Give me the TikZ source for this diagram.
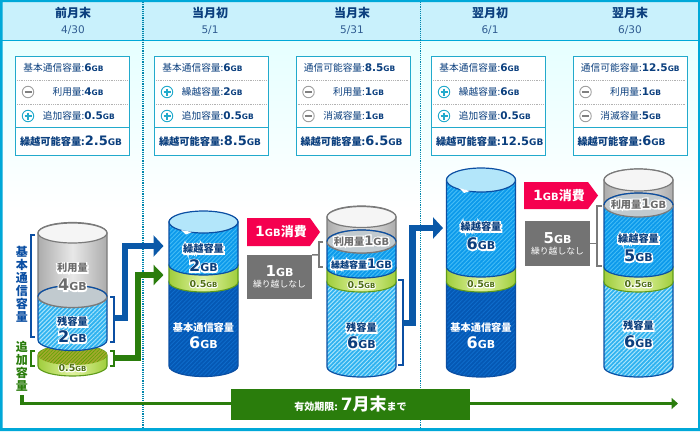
\documentclass[tikz,border=0pt]{standalone}
\usepackage{fontspec}
\setmainfont{Noto Sans CJK JP}
\newfontfamily\numfont{DejaVu Sans}
\usetikzlibrary{arrows.meta,patterns.meta}
\definecolor{framecy}{HTML}{00A8D8}
\definecolor{headcy}{HTML}{C9F1FC}
\definecolor{panelcy}{HTML}{22AACC}
\definecolor{navytxt}{HTML}{0B3F7E}
\definecolor{blueln}{HTML}{0B4FA3}
\definecolor{arrowbl}{HTML}{0A58A8}
\definecolor{arrowgr}{HTML}{2A7D0C}
\definecolor{olivetxt}{HTML}{4F6E12}
\definecolor{grayln}{HTML}{7A7A7A}
\definecolor{tagred}{HTML}{F5004F}
\definecolor{darkbase}{HTML}{0558B4}
\definecolor{darkline}{HTML}{0E6CCB}
\definecolor{midbase}{HTML}{0D9AEB}
\definecolor{midline}{HTML}{45BDF6}
\definecolor{litebase}{HTML}{2FB2F0}
\definecolor{liteline}{HTML}{A8E4FB}
\definecolor{greenside}{HTML}{A0CE3C}
\definecolor{greenmid}{HTML}{E0F2A0}
\definecolor{greenln}{HTML}{5E9B1A}

\newcommand{\gbv}[3]{{\numfont\bfseries\fontsize{#2}{#2}\selectfont #1\fontsize{#3}{#3}\selectfont GB}}
\newcommand{\halo}[3][2.6]{\rlap{\special{pdf:code 2 Tr #1 w 1 1 1 RG}\textcolor{white}{#3}\special{pdf:code 0 Tr 1 w 0 0 0 RG}}\textcolor{#2}{#3}}
% one piece of a cylinder: style, centre x, top y, bottom y, ry
\newcommand{\cylseg}[5]{\path[#1] (#2-34.5,#3) -- (#2-34.5,#4) arc (180:0:34.5 and #5) -- (#2+34.5,#3) arc (0:-180:34.5 and #5) -- cycle;}

\tikzset{
  panelbox/.style={draw=panelcy,line width=1.1pt,fill=white,minimum width=114pt,minimum height=99.5pt,inner sep=0pt},
  rowtxt/.style={inner sep=0pt,text=navytxt,font=\fontsize{9.7}{10}\selectfont},
  sumtxt/.style={inner sep=0pt,text=navytxt,font=\fontsize{10.2}{11}\selectfont\bfseries},
  headtxt/.style={inner sep=0pt,text=navytxt,font=\fontsize{12}{13}\selectfont\bfseries},
  datetxt/.style={inner sep=0pt,text=navytxt!85,font=\numfont\fontsize{10.5}{11}\selectfont},
  plusicon/.style={circle,draw=panelcy,line width=0.9pt,fill=white,minimum size=11.5pt,inner sep=0pt,
    path picture={\draw[panelcy,line width=1.3pt] (path picture bounding box.center) ++(-3.5,0) -- ++(7,0) ++(-3.5,-3.5) -- ++(0,7);}},
  minusicon/.style={circle,draw=gray!75,line width=0.9pt,fill=white,minimum size=11.5pt,inner sep=0pt,
    path picture={\draw[gray,line width=1.2pt] (path picture bounding box.center) ++(-3.5,0) -- ++(7,0);}},
  hatchdark/.style={preaction={fill=darkbase},pattern={Lines[angle=45,distance=3pt,line width=0.9pt]},pattern color=darkline,draw=blueln,line width=1.2pt},
  hatchmid/.style={preaction={fill=midbase},pattern={Lines[angle=45,distance=3pt,line width=0.9pt]},pattern color=midline,draw=blueln,line width=1.2pt},
  hatchlite/.style={preaction={fill=litebase},pattern={Lines[angle=45,distance=3pt,line width=1pt]},pattern color=liteline,draw=blueln,line width=1.2pt},
  greenband/.style={left color=greenside,right color=greenside,middle color=greenmid,draw=greenln,line width=1.1pt},
  graybody/.style={left color=gray!65,right color=gray!65,middle color=gray!18,draw=grayln,line width=1.2pt},
  topwhite/.style={fill=gray!8,draw=grayln,line width=1.2pt},
  topblue/.style={fill=cyan!30!white,draw=blueln,line width=1.2pt},
  usedtop/.style={fill=cyan!15!gray!50,draw=grayln,line width=1.2pt},
  cyltxt/.style={inner sep=0pt,font=\fontsize{10.2}{11}\selectfont\bfseries},
  bkblue/.style={draw=blueln,line width=1.5pt},
  bkgreen/.style={draw=arrowgr,line width=1.5pt},
  bkgray/.style={draw=grayln,line width=1.5pt},
  bluearrow/.style={draw=arrowbl,line width=6.5pt,-{Triangle[length=10pt,width=21pt]}},
  greenarrow/.style={draw=arrowgr,line width=5.5pt,-{Triangle[length=10pt,width=20pt]}},
  grayboxn/.style={fill=gray!90!black,text=white,minimum width=65pt,inner sep=0pt,align=center},
  tagtxt/.style={inner sep=0pt,text=white,font=\fontsize{13}{14}\selectfont\bfseries},
}

\begin{document}
\begin{tikzpicture}[x=1pt,y=-1pt]
\useasboundingbox (0,0) rectangle (700,431);
\fill[white] (0,0) rectangle (700,431);
\shade[top color=cyan!10!white,bottom color=white] (0,41) rectangle (700,210);
\fill[headcy] (0,0) rectangle (700,40);
\draw[framecy,line width=1.6pt] (0,40.5) -- (700,40.5);
\draw[framecy!80!black,line width=1.2pt,densely dotted] (143,2) -- (143,428);
\draw[framecy!80!black,line width=1.2pt,densely dotted] (420.5,2) -- (420.5,428);
\fill[framecy,even odd rule] (0,0) rectangle (700,431) (2.5,2) rectangle (698,428);

% header
\foreach \hx/\hname/\hdate/\hid in {73/前月末/4\slash 30/a,210/当月初/5\slash 1/b,352/当月末/5\slash 31/c,490/翌月初/6\slash 1/d,630/翌月末/6\slash 30/e}{
  \node[headtxt] (head\hid) at (\hx,13) {\hname};
  \node[datetxt] (date\hid) at (\hx,30) {\hdate};
}

% capacity panels
\foreach \bx/\ta/\va/\sb/\tb/\vb/\sc/\tc/\vc/\vd/\szd/\bid in {
  15/基本通信容量/6/minusicon/利用量/4/plusicon/追加容量/0.5/2.5/13/a,
  154/基本通信容量/6/plusicon/繰越容量/2/plusicon/追加容量/0.5/8.5/13/b,
  295.5/通信可能容量/8.5/minusicon/利用量/1/minusicon/消滅容量/1/6.5/13/c,
  431/基本通信容量/6/plusicon/繰越容量/6/plusicon/追加容量/0.5/12.5/11.5/d,
  572.5/通信可能容量/12.5/minusicon/利用量/1/minusicon/消滅容量/5/6/13/e}{
  \node[panelbox,anchor=north west] (box\bid) at (\bx,55.5) {};
  \draw[gray!60,line width=0.8pt,densely dotted] (\bx+2,80) -- (\bx+112,80);
  \draw[gray!60,line width=0.8pt,densely dotted] (\bx+2,104) -- (\bx+112,104);
  \draw[panelcy,line width=1.1pt] (\bx,127.5) -- (\bx+114,127.5);
  \node[\sb] (signb\bid) at (\bx+13,92) {};
  \node[\sc] (signc\bid) at (\bx+13,116) {};
  \node[rowtxt] (rowa\bid) at (\bx+68,68) {\llap{\ta}:\rlap{\gbv{\va}{10.5}{7.5}}};
  \node[rowtxt] (rowb\bid) at (\bx+68,92) {\llap{\tb}:\rlap{\gbv{\vb}{10.5}{7.5}}};
  \node[rowtxt] (rowc\bid) at (\bx+68,116) {\llap{\tc}:\rlap{\gbv{\vc}{10.5}{7.5}}};
  \node[sumtxt] (rowd\bid) at (\bx+68,141.5) {\llap{繰越可能容量}:\rlap{\gbv{\vd}{\szd}{9}}};
}

% cylinder, 4/30
\cylseg{greenband}{72.5}{355}{366}{10}
\path[pattern={Lines[angle=45,distance=2.5pt,line width=0.6pt]},pattern color=olive!70!green,preaction={fill=olive!45!greenside}] (72.5,355) ellipse (34.5 and 10);
\cylseg{hatchlite}{72.5}{297}{340}{10.5}
\cylseg{graybody}{72.5}{233}{297}{10.5}
\path[usedtop] (72.5,296.5) ellipse (34.5 and 11);
\draw[blueln,line width=1.2pt] (38,296.5) arc (-180:0:34.5 and 11);
\path[topwhite] (72.5,233) ellipse (34.5 and 10);
\node[cyltxt] (useda) at (72.5,268) {\halo{gray!85!black}{利用量}};
\node[cyltxt] (usedvala) at (72.5,285) {\halo{gray!85!black}{\gbv{4}{16}{11}}};
\node[cyltxt] (resta) at (72.5,322) {\halo{navytxt}{残容量}};
\node[cyltxt] (restvala) at (72.5,337) {\halo{navytxt}{\gbv{2}{16}{11}}};
\node[cyltxt] (adda) at (72.5,368) {\halo[1.6]{olivetxt}{\gbv{0.5}{9.5}{7}}};

% cylinder, 5/1
\cylseg{hatchdark}{203.5}{282}{366}{10.5}
\cylseg{greenband}{203.5}{265}{282}{10}
\cylseg{hatchmid}{203.5}{222}{265}{10}
\path[topblue] (203.5,222) ellipse (34.5 and 11);
\fill[white] (181,230) -- (192,232) -- (186,234.5) -- cycle;
\node[cyltxt] (carryb) at (203.5,249) {\halo{navytxt}{繰越容量}};
\node[cyltxt] (carryvalb) at (203.5,266) {\halo{navytxt}{\gbv{2}{16}{11}}};
\node[cyltxt] (addb) at (203.5,284) {\halo[1.6]{olivetxt}{\gbv{0.5}{9.5}{7}}};
\node[cyltxt,text=white] (baseb) at (203.5,328) {基本通信容量};
\node[cyltxt,text=white] (basevalb) at (203.5,343) {\gbv{6}{16}{11}};

% cylinder, 5/31
\cylseg{hatchlite}{361.5}{282}{367}{10}
\cylseg{greenband}{361.5}{268}{282}{10}
\cylseg{hatchmid}{361.5}{242}{268}{10}
\cylseg{graybody}{361.5}{217}{242}{11}
\path[usedtop] (361.5,241.5) ellipse (34.5 and 11.5);
\draw[blueln,line width=1.2pt] (327,241.5) arc (-180:0:34.5 and 11.5);
\path[topwhite] (361.5,217) ellipse (34.5 and 10.5);
\node[cyltxt] (usedc) at (361.5,241) {\halo{gray!85!black}{利用量\gbv{1}{13}{10}}};
\node[cyltxt] (carryc) at (361.5,264) {\halo{navytxt}{\fontsize{9}{10}\selectfont 繰越容量\gbv{1}{13}{10}}};
\node[cyltxt] (addc) at (361.5,285) {\halo[1.6]{olivetxt}{\gbv{0.5}{9.5}{7}}};
\node[cyltxt] (restc) at (361.5,328) {\halo{navytxt}{残容量}};
\node[cyltxt] (restvalc) at (361.5,343) {\halo{navytxt}{\gbv{6}{16}{11}}};

% cylinder, 6/1
\cylseg{hatchdark}{481}{282}{367}{10}
\cylseg{greenband}{481}{267}{282}{10}
\cylseg{hatchmid}{481}{180}{267}{10}
\path[topblue] (481,180) ellipse (34.5 and 12);
\fill[white] (459,188) -- (470,191) -- (464,193) -- cycle;
\node[cyltxt] (carryd) at (481,227) {\halo{navytxt}{繰越容量}};
\node[cyltxt] (carryvald) at (481,244) {\halo{navytxt}{\gbv{6}{16}{11}}};
\node[cyltxt] (addd) at (481,284) {\halo[1.6]{olivetxt}{\gbv{0.5}{9.5}{7}}};
\node[cyltxt,text=white] (based) at (481,328) {基本通信容量};
\node[cyltxt,text=white] (basevald) at (481,343) {\gbv{6}{16}{11}};

% cylinder, 6/30
\cylseg{hatchlite}{638.5}{282}{367}{10}
\cylseg{greenband}{638.5}{267}{282}{10}
\cylseg{hatchmid}{638.5}{205}{267}{10}
\cylseg{graybody}{638.5}{180}{205}{11}
\path[usedtop] (638.5,205) ellipse (34.5 and 12);
\draw[blueln,line width=1.2pt] (604,205) arc (-180:0:34.5 and 12);
\path[topwhite] (638.5,180) ellipse (34.5 and 11);
\node[cyltxt] (usede) at (638.5,204) {\halo{gray!85!black}{利用量\gbv{1}{13}{10}}};
\node[cyltxt] (carrye) at (638.5,239) {\halo{navytxt}{繰越容量}};
\node[cyltxt] (carryvale) at (638.5,256) {\halo{navytxt}{\gbv{5}{16}{11}}};
\node[cyltxt] (adde) at (638.5,284) {\halo[1.6]{olivetxt}{\gbv{0.5}{9.5}{7}}};
\node[cyltxt] (reste) at (638.5,326) {\halo{navytxt}{残容量}};
\node[cyltxt] (restvale) at (638.5,342) {\halo{navytxt}{\gbv{6}{16}{11}}};

% brackets
\draw[bkblue] (35,235) -- (31,235) -- (31,337) -- (35,337);
\draw[bkgreen] (35,351) -- (31,351) -- (31,366) -- (35,366);
\draw[bkblue] (110,297) -- (114,297) -- (114,342) -- (110,342);
\draw[bkgreen] (110,351) -- (114,351) -- (114,366) -- (110,366);
\draw[bkblue] (398,280) -- (403,280) -- (403,365) -- (398,365);
\draw[bkgray] (323,242) -- (319,242) -- (319,267) -- (323,267);
\draw[bkgray] (602,206) -- (597,206) -- (597,266) -- (602,266);

\node[inner sep=0pt,text=blueln,align=center,font=\fontsize{12}{13}\selectfont\bfseries] (vbase) at (22,284) {基\\本\\通\\信\\容\\量};
\node[inner sep=0pt,text=arrowgr,align=center,font=\fontsize{12}{13}\selectfont\bfseries] (vadd) at (22,366) {追\\加\\容\\量};

% arrows between cylinders
\coordinate (bluea) at (114,318);
\coordinate (blueb) at (163.5,246);
\coordinate (greena) at (114,358);
\coordinate (greenb) at (163.5,275);
\coordinate (bluec) at (403,323);
\coordinate (blued) at (443,228);
\draw[bluearrow] (bluea) -- ++(11,0) |- (blueb);
\draw[greenarrow] (greena) -- ++(24,0) |- (greenb);
\draw[bluearrow] (bluec) -- ++(9.5,0) |- (blued);

% consumed tags and carry-over boxes
\fill[tagred] (247,218) -- (310,218) -- (320,232) -- (310,246) -- (247,246) -- cycle;
\node[tagtxt] (taga) at (281,232) {\gbv{1}{14}{10}消費};
\fill[tagred] (524,182) -- (588,182) -- (598,195.5) -- (588,209) -- (524,209) -- cycle;
\node[tagtxt] (tagb) at (559,195.5) {\gbv{1}{14}{10}消費};
\node[grayboxn,minimum height=44pt] (graya) at (279.5,277) {\gbv{1}{15}{11}\\[-1pt]{\fontsize{8.8}{10}\selectfont 繰り越しなし}};
\node[grayboxn,minimum height=45pt] (grayb) at (557.5,243.5) {\gbv{5}{15}{11}\\[-1pt]{\fontsize{8.8}{10}\selectfont 繰り越しなし}};
\draw[bkgray] (319,255) -- (graya.north east);
\draw[bkgray] (597,243.5) -- (grayb.east);

% validity line
\coordinate (limita) at (22,395);
\coordinate (limitb) at (678,403.5);
\draw[arrowgr,line width=3.5pt,-{Triangle[length=6.5pt,width=11pt]}] (limita) |- (limitb);
\node[fill=arrowgr,text=white,minimum width=239pt,minimum height=31pt,inner sep=0pt,font=\fontsize{10}{11}\selectfont\bfseries] (limitbox) at (350.5,404.5)
  {有効期限: {\fontsize{17}{18}\selectfont\numfont\bfseries 7}{\fontsize{17}{18}\selectfont 月末}まで};
\end{tikzpicture}
\end{document}
